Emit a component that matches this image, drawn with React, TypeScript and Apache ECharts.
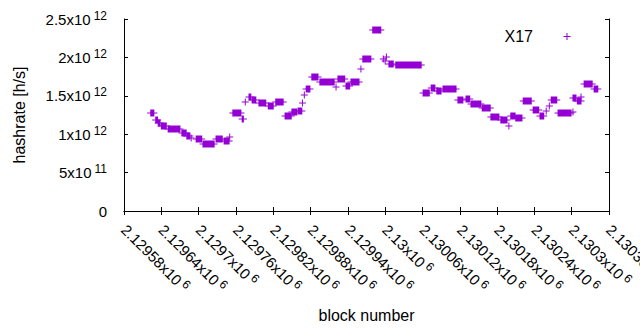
import React, { useEffect, useRef } from "react";
import * as echarts from "echarts";

// Runs of consecutive X17 blocks sharing one hashrate estimate
const blockStart = [
  2129623, 2129631, 2129635, 2129640, 2129651, 2129673, 2129681, 2129688, 2129696, 2129707,
  2129728, 2129741, 2129750, 2129755, 2129770, 2129775, 2129781, 2129786, 2129797, 2129812,
  2129824, 2129839, 2129850, 2129860, 2129867, 2129870, 2129873, 2129882, 2129895, 2129921,
  2129924, 2129937, 2129945, 2129961, 2129964, 2129980, 2129997, 2130000, 2130002, 2130006,
  2130017, 2130061, 2130074, 2130083, 2130093, 2130117, 2130130, 2130138, 2130156, 2130170,
  2130186, 2130199, 2130202, 2130210, 2130222, 2130238, 2130249, 2130259, 2130264, 2130267,
  2130278, 2130302, 2130302, 2130309, 2130315, 2130320, 2130336,
];
const blockEnd = [
  2129628, 2129634, 2129638, 2129648, 2129670, 2129680, 2129686, 2129688, 2129705, 2129725,
  2129738, 2129749, 2129750, 2129768, 2129772, 2129775, 2129784, 2129792, 2129808, 2129820,
  2129836, 2129849, 2129858, 2129866, 2129867, 2129870, 2129879, 2129892, 2129918, 2129921,
  2129935, 2129943, 2129958, 2129961, 2129977, 2129993, 2129997, 2130000, 2130002, 2130013,
  2130058, 2130071, 2130080, 2130090, 2130114, 2130125, 2130136, 2130154, 2130169, 2130183,
  2130196, 2130199, 2130209, 2130220, 2130235, 2130247, 2130255, 2130259, 2130264, 2130276,
  2130299, 2130302, 2130307, 2130315, 2130315, 2130333, 2130342,
];
const hashrate = [
  1.272e12, 1.185e12, 1.146e12, 1.107e12, 1.064e12, 1.016e12, 0.983e12, 0.955e12, 0.944e12, 0.866e12,
  0.931e12, 0.911e12, 0.967e12, 1.272e12, 1.204e12, 1.419e12, 1.488e12, 1.445e12, 1.4e12, 1.367e12,
  1.413e12, 1.243e12, 1.283e12, 1.302e12, 1.402e12, 1.51e12, 1.589e12, 1.741e12, 1.686e12, 1.62e12,
  1.715e12, 1.624e12, 1.686e12, 1.845e12, 1.975e12, 2.357e12, 1.975e12, 1.953e12, 2.01e12, 1.914e12,
  1.901e12, 1.533e12, 1.597e12, 1.556e12, 1.585e12, 1.439e12, 1.458e12, 1.393e12, 1.341e12, 1.224e12,
  1.191e12, 1.107e12, 1.233e12, 1.217e12, 1.428e12, 1.311e12, 1.237e12, 1.302e12, 1.367e12, 1.445e12,
  1.272e12, 1.29e12, 1.471e12, 1.426e12, 1.48e12, 1.65e12, 1.585e12,
];

const seriesName = "X17";
const xMin = 2129580;
const xMax = 2130360;
const xStep = 60;
const yMin = 0;
const yMax = 2.5e12;
const yStep = 5e11;

const PURPLE = "#9400d3";
const FONT = "'Liberation Sans', Arial, sans-serif";
const FS = 15;
const FT = 16;

function sci(v: number): string {
  if (v === 0) return "{m|0}";
  const exp = Math.floor(Math.log10(Math.abs(v)) + 1e-9);
  const mant = parseFloat((v / Math.pow(10, exp)).toPrecision(6)).toString();
  return "{m|" + mant + "x10}{e|" + exp + "}";
}

const rich = {
  m: { fontSize: FS, fontFamily: FONT, color: "#000" },
  e: { fontSize: 12, fontFamily: FONT, color: "#000", padding: [0, 0, 7, 3] },
};

export default function App() {
  const ref = useRef<HTMLDivElement>(null);
  useEffect(() => {
    if (!ref.current) return;
    const chart = echarts.init(ref.current, null, { renderer: "svg" });
    const data = blockStart.map((s, i) => [s, blockEnd[i], hashrate[i]]);
    const tickStyle = { show: true, inside: true, length: 4, lineStyle: { color: "#000", width: 1 } };
    const lineStyle = { show: true, lineStyle: { color: "#000", width: 1 } };
    chart.setOption({
      animation: false,
      backgroundColor: "#fff",
      grid: {
        left: 124,
        right: 31,
        top: 19,
        bottom: 119,
        containLabel: false,
        outerBoundsMode: "none",
      },
      legend: {
        data: [{ name: seriesName, icon: "path://M3,0H4V3H7V4H4V7H3V4H0V3H3Z" }],
        right: 69.5,
        top: 28.5,
        align: "right",
        itemWidth: 58,
        itemHeight: 7,
        symbolKeepAspect: true,
        padding: 0,
        selectedMode: false,
        textStyle: { fontSize: FT, fontFamily: FONT, color: "#000" },
      },
      xAxis: [
        {
          type: "value",
          min: xMin,
          max: xMax,
          interval: xStep,
          position: "bottom",
          axisLine: lineStyle,
          axisTick: tickStyle,
          splitLine: { show: false },
          axisLabel: {
            rotate: -45,
            margin: 16,
            formatter: (v: number) => sci(v),
            rich,
          },
          name: "block number",
          nameLocation: "middle",
          nameGap: 96,
          nameTextStyle: { fontSize: FT, fontFamily: FONT, color: "#000" },
        },
        {
          type: "value",
          min: xMin,
          max: xMax,
          interval: xStep,
          position: "top",
          axisLine: lineStyle,
          axisTick: tickStyle,
          axisLabel: { show: false },
          splitLine: { show: false },
        },
      ],
      yAxis: [
        {
          type: "value",
          min: yMin,
          max: yMax,
          interval: yStep,
          position: "left",
          axisLine: lineStyle,
          axisTick: tickStyle,
          splitLine: { show: false },
          axisLabel: { margin: 17, formatter: (v: number) => sci(v), rich },
          name: "hashrate [h/s]",
          nameLocation: "middle",
          nameGap: 97,
          nameTextStyle: { fontSize: FT, fontFamily: FONT, color: "#000" },
        },
        {
          type: "value",
          min: yMin,
          max: yMax,
          interval: yStep,
          position: "right",
          axisLine: lineStyle,
          axisTick: tickStyle,
          axisLabel: { show: false },
          splitLine: { show: false },
        },
      ],
      series: [
        {
          name: seriesName,
          type: "custom",
          xAxisIndex: 0,
          yAxisIndex: 0,
          itemStyle: { color: PURPLE },
          encode: { x: [0, 1], y: 2 },
          data,
          renderItem: (params: any, api: any) => {
            const a = api.coord([api.value(0), api.value(2)]);
            const b = api.coord([api.value(1), api.value(2)]);
            const h = 3.5;
            const y = Math.round(a[1]);
            return {
              type: "group",
              children: [
                {
                  type: "rect",
                  shape: { x: a[0] - 0.5, y: y - h, width: b[0] - a[0] + 1, height: 2 * h },
                  style: { fill: PURPLE },
                },
                {
                  type: "rect",
                  shape: { x: a[0] - h, y: y - 0.5, width: b[0] - a[0] + 2 * h, height: 1 },
                  style: { fill: PURPLE },
                },
              ],
            };
          },
        },
      ],
    });
    return () => chart.dispose();
  }, []);
  return (
    <div
      ref={ref}
      style={{ position: "fixed", left: 0, top: 0, width: 640, height: 330, background: "#fff" }}
    />
  );
}
